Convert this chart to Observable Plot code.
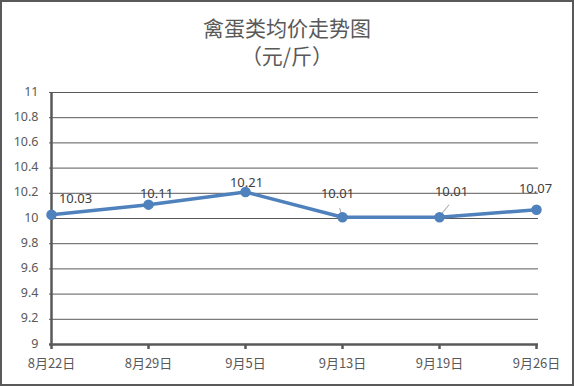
<!DOCTYPE html>
<html><head><meta charset="utf-8">
<script src="https://cdn.jsdelivr.net/npm/d3@7"></script>
<script src="https://cdn.jsdelivr.net/npm/@observablehq/plot@0.6"></script>
<style>
html,body{margin:0;padding:0;background:#fff;}
#wrap{position:relative;width:574px;height:386px;overflow:hidden;}
#frame{position:absolute;left:0;top:0;width:574px;height:386px;box-sizing:border-box;border:2px solid #595959;pointer-events:none;}
.t{position:absolute;left:0;width:574px;text-align:center;color:#595959;font-family:"Noto Sans CJK SC",sans-serif;font-size:21px;line-height:24px;}
#title{top:15px;}
#sub{top:43px;}
</style></head>
<body>
<div id="wrap">
<div class="t" id="title">禽蛋类均价走势图</div>
<div class="t" id="sub">（元/斤）</div>
<div id="chart"></div>
<div id="frame"></div>
</div>
<script>
const dates = ["8月22日","8月29日","9月5日","9月13日","9月19日","9月26日"];
const prices = [10.03, 10.11, 10.21, 10.01, 10.01, 10.07];
const yTicks = [9, 9.2, 9.4, 9.6, 9.8, 10, 10.2, 10.4, 10.6, 10.8, 11];

// label placement (pixels) relative to each point
const labelDx = [24, 8, 1, -5, 12, -1];
const labelDy = [-16, -11, -9, -23, -25, -21];

const data = dates.map((d, i) => ({date: d, price: prices[i], dx: labelDx[i], dy: labelDy[i]}));
const leaders = [data[3], data[4]];

const fontNum = "'Noto Sans', 'Noto Sans CJK SC', sans-serif";

const chart = Plot.plot({
  width: 574,
  height: 386,
  marginLeft: 49,
  marginRight: 36,
  marginTop: 92,
  marginBottom: 42,
  style: {background: "transparent", fontFamily: fontNum, fontSize: "12px", color: "#595959"},
  x: {type: "point", domain: dates, padding: 0, label: null},
  y: {domain: [9, 11], label: null},
  marks: [
    Plot.ruleY(yTicks.filter(v => v > 9), {stroke: "#595959", strokeWidth: 1, strokeOpacity: 1}),
    Plot.axisY({ticks: yTicks, tickSize: 0, tickPadding: 11, tickFormat: d => String(d), fill: "#595959", fontSize: 12.5, fontFamily: fontNum, dy: -1}),
    Plot.axisX({tickSize: 5, tickPadding: 9, stroke: "#595959", strokeWidth: 2.5, fill: "#595959", fontSize: 13, fontFamily: "'Noto Sans CJK SC', sans-serif"}),
    Plot.ruleX([dates[0]], {stroke: "#595959", strokeWidth: 2.5}),
    Plot.ruleY([9], {stroke: "#595959", strokeWidth: 2.5}),
    Plot.vector(leaders, {x: "date", y: "price", anchor: "start", r: 0, length: (d, i) => i === 0 ? 9 : 16, rotate: (d, i) => i === 0 ? -15 : 40, dx: (d, i) => i === 0 ? -1 : 2, dy: (d, i) => i === 0 ? -5 : -3, stroke: "#a6a6a6", strokeWidth: 1}),
    Plot.line(data, {x: "date", y: "price", stroke: "#4f81bd", strokeWidth: 3.5}),
    Plot.dot(data, {x: "date", y: "price", r: 4.5, fill: "#4f81bd", stroke: "#4f81bd"}),
    ...data.map(d => Plot.text([d], {x: "date", y: "price", text: v => v.price.toFixed(2), dx: d.dx, dy: d.dy, fill: "#404040", fontSize: 13, fontFamily: fontNum}))
  ]
});
document.getElementById("chart").appendChild(chart);
</script>
</body></html>
